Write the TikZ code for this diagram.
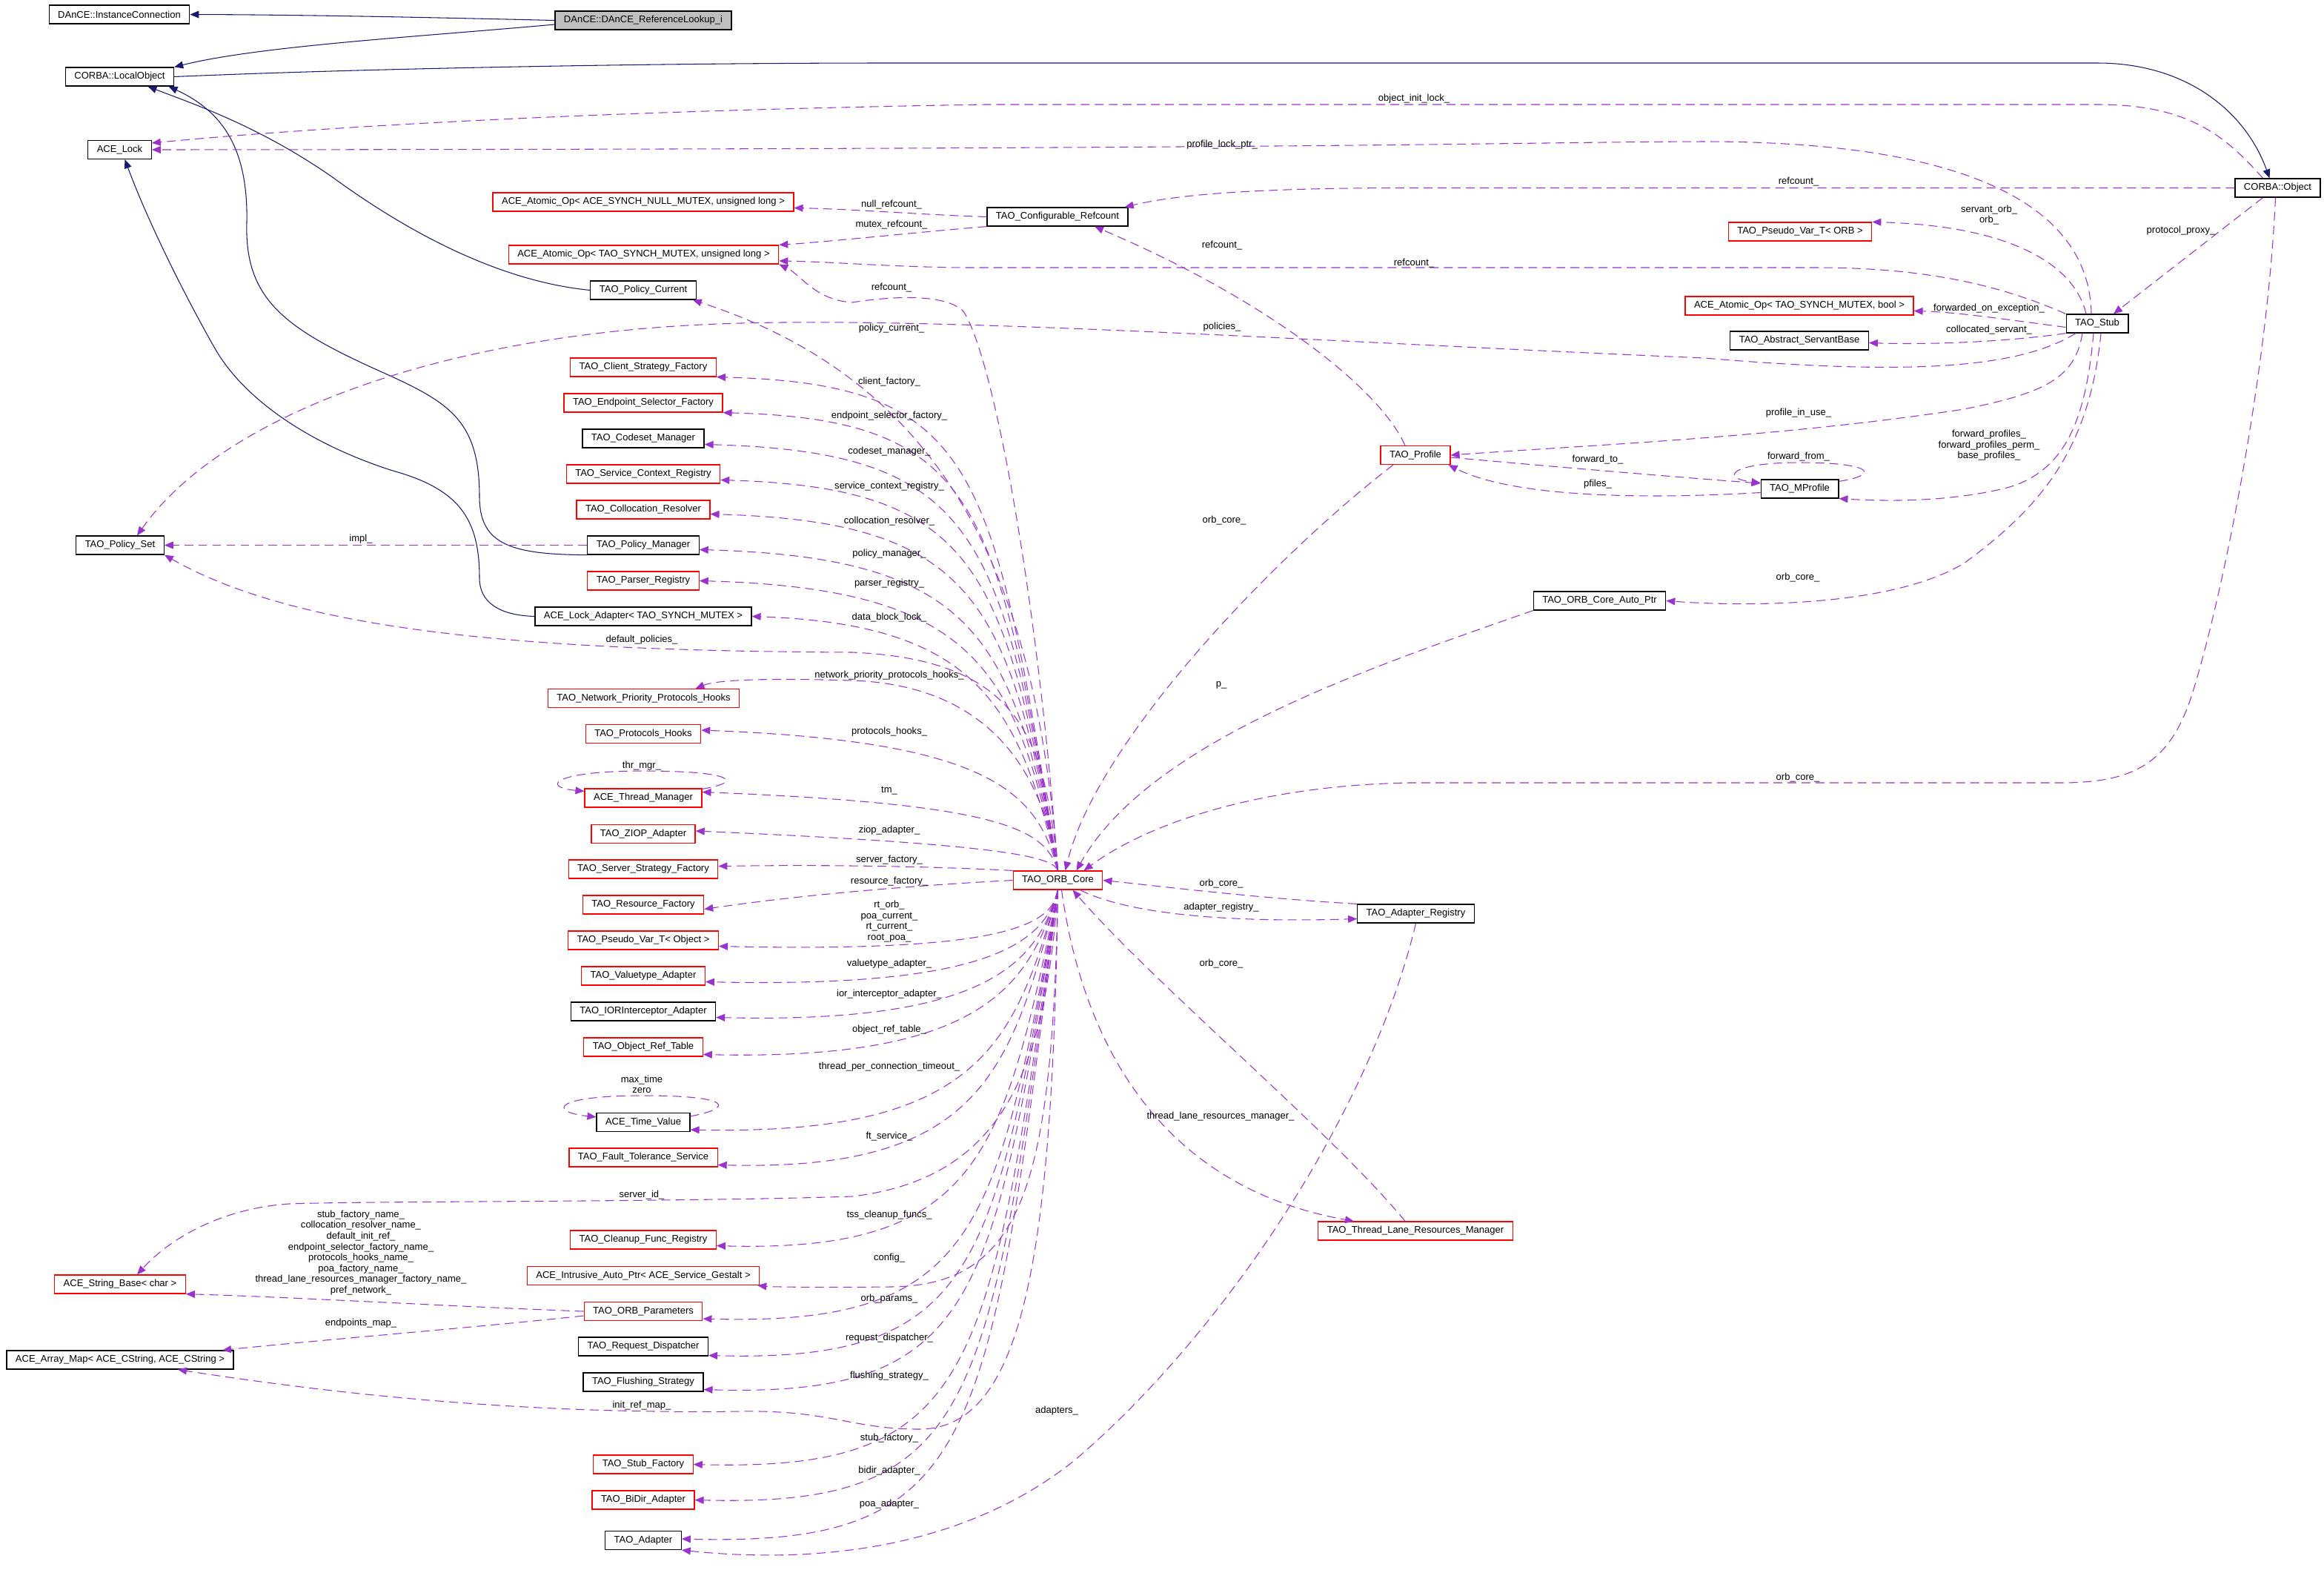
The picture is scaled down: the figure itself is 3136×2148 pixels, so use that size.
\documentclass[tikz,border=0pt]{standalone}
\usepackage{fontspec}
\setmainfont{Liberation Sans}
\usetikzlibrary{arrows.meta}
\definecolor{edgecol}{HTML}{9A32CD}
\definecolor{basecol}{HTML}{191970}
\definecolor{boxred}{HTML}{FF0000}
\tikzset{>={Triangle[length=3.4pt,width=2.8pt]}}
\tikzset{cls/.style={draw=black,line width=0.35pt,inner xsep=0.12cm,inner ysep=0pt,minimum height=0.25cm,font=\fontsize{3.7}{4.15}\selectfont}}
\tikzset{redcls/.style={cls,draw=boxred}}
\tikzset{member/.style={->,edgecol,line width=0.3pt,dash pattern=on 3.4pt off 2pt}}
\tikzset{inherit/.style={->,basecol,line width=0.3pt}}
\tikzset{lbl/.style={inner sep=0pt,align=center,font=\fontsize{3.7}{4.15}\selectfont}}

\begin{document}
\begin{tikzpicture}[x=0.01cm,y=-0.01cm]
\fill[white] (0,0) rectangle (3136,2148);
\useasboundingbox (0,0) rectangle (3136,2148);

% classes
\node[cls] (ic) at (161,19.5) {DAnCE::InstanceConnection};
\node[cls,fill=gray!50] (rl) at (868,27.5) {DAnCE::DAnCE\_ReferenceLookup\_i};
\node[cls] (lo) at (161.5,103.5) {CORBA::LocalObject};
\node[cls] (lock) at (161.5,202) {ACE\_Lock};
\node[redcls] (aonull) at (868,272.5) {ACE\_Atomic\_Op< ACE\_SYNCH\_NULL\_MUTEX, unsigned long >};
\node[redcls] (aomutex) at (868.5,343.5) {ACE\_Atomic\_Op< TAO\_SYNCH\_MUTEX, unsigned long >};
\node[cls] (polcur) at (868,391.5) {TAO\_Policy\_Current};
\node[cls] (cfgref) at (1427,292.5) {TAO\_Configurable\_Refcount};
\node[cls] (cobj) at (3073.5,253.5) {CORBA::Object};
\node[redcls] (pvorb) at (2429,312.5) {TAO\_Pseudo\_Var\_T< ORB >};
\node[redcls] (aobool) at (2428,412.5) {ACE\_Atomic\_Op< TAO\_SYNCH\_MUTEX, bool >};
\node[cls] (servant) at (2428,459.5) {TAO\_Abstract\_ServantBase};
\node[cls] (stub) at (2830,436.5) {TAO\_Stub};
\node[cls] (mprof) at (2428.5,659.5) {TAO\_MProfile};
\node[redcls] (prof) at (1910,614) {TAO\_Profile};
\node[cls] (autoptr) at (2158.5,810.5) {TAO\_ORB\_Core\_Auto\_Ptr};
\node[redcls] (orb) at (1427.5,1187.5) {TAO\_ORB\_Core};
\node[cls] (adreg) at (1910.5,1232.5) {TAO\_Adapter\_Registry};
\node[redcls] (tlrm) at (1910,1660.5) {TAO\_Thread\_Lane\_Resources\_Manager};
\node[cls] (policyset) at (162,735.5) {TAO\_Policy\_Set};
\node[redcls] (csf) at (868,495.5) {TAO\_Client\_Strategy\_Factory};
\node[redcls] (esf) at (868,543.5) {TAO\_Endpoint\_Selector\_Factory};
\node[cls] (codeset) at (868,591.5) {TAO\_Codeset\_Manager};
\node[redcls] (scr) at (868,639.5) {TAO\_Service\_Context\_Registry};
\node[redcls] (colres) at (868,687.5) {TAO\_Collocation\_Resolver};
\node[cls] (polman) at (868,735.5) {TAO\_Policy\_Manager};
\node[redcls] (parser) at (868,783.5) {TAO\_Parser\_Registry};
\node[cls] (lockad) at (868,831.5) {ACE\_Lock\_Adapter< TAO\_SYNCH\_MUTEX >};
\node[redcls] (nphooks) at (868.5,942) {TAO\_Network\_Priority\_Protocols\_Hooks};
\node[redcls] (phooks) at (868,990) {TAO\_Protocols\_Hooks};
\node[redcls] (thrmgr) at (868,1076.5) {ACE\_Thread\_Manager};
\node[redcls] (ziop) at (868,1125) {TAO\_ZIOP\_Adapter};
\node[redcls] (ssf) at (868,1172.5) {TAO\_Server\_Strategy\_Factory};
\node[redcls] (resf) at (868,1220.5) {TAO\_Resource\_Factory};
\node[redcls] (pvobj) at (868,1268.5) {TAO\_Pseudo\_Var\_T< Object >};
\node[redcls] (vta) at (868,1316.5) {TAO\_Valuetype\_Adapter};
\node[cls] (iora) at (868,1364.5) {TAO\_IORInterceptor\_Adapter};
\node[redcls] (ort) at (868,1412.5) {TAO\_Object\_Ref\_Table};
\node[cls] (timeval) at (868,1514) {ACE\_Time\_Value};
\node[redcls] (fts) at (868,1561.5) {TAO\_Fault\_Tolerance\_Service};
\node[redcls] (cleanup) at (868,1672.5) {TAO\_Cleanup\_Func\_Registry};
\node[redcls] (iap) at (868,1721) {ACE\_Intrusive\_Auto\_Ptr< ACE\_Service\_Gestalt >};
\node[redcls] (orbparams) at (868,1769) {TAO\_ORB\_Parameters};
\node[cls] (reqdisp) at (868,1816.5) {TAO\_Request\_Dispatcher};
\node[cls] (flush) at (868,1864.5) {TAO\_Flushing\_Strategy};
\node[redcls] (stubf) at (868,1975.5) {TAO\_Stub\_Factory};
\node[redcls] (bidir) at (868,2023.5) {TAO\_BiDir\_Adapter};
\node[cls] (adapter) at (868,2078) {TAO\_Adapter};
\node[redcls] (strbase) at (162,1732.5) {ACE\_String\_Base< char >};
\node[cls] (arraymap) at (162,1834.5) {ACE\_Array\_Map< ACE\_CString, ACE\_CString >};

% inheritance
\draw[inherit] (rl.west) .. controls (600,24) and (420,20) .. (ic.east);
\draw[inherit] ([yshift=-0.055cm]rl.west) .. controls (560,50) and (350,62) .. (lo.north east);
\draw[inherit] (lo.east) .. controls (500,92) and (900,85) .. (1200,85) -- (2830,85) .. controls (2950,85) and (3030,150) .. ([xshift=-0.11cm]cobj.north);
\draw[inherit] (polcur.west) .. controls (680,380) and (560,320) .. (450,240) .. controls (350,170) and (260,140) .. ([xshift=0.38cm]lo.south);
\draw[inherit] (polman.south west) .. controls (690,748) and (647,735) .. (647,670) .. controls (647,560) and (600,540) .. (500,495) .. controls (380,440) and (330,400) .. (333,300) .. controls (335,200) and (300,150) .. ([xshift=0.66cm]lo.south);
\draw[inherit] (lockad.west) .. controls (670,830) and (647,810) .. (647,780) .. controls (647,700) and (620,660) .. (530,635) .. controls (420,600) and (330,540) .. (290,470) .. controls (250,400) and (200,300) .. ([xshift=0.07cm]lock.south);

% members of the refcount, lock and stub classes
\draw[member] (cfgref.west) .. controls (1250,290) and (1150,282) .. ([yshift=-0.08cm]aonull.east);
\draw[member] (cfgref.south west) .. controls (1250,312) and (1120,326) .. (aomutex.north east);
\draw[member] ([xshift=-0.14cm]prof.north) .. controls (1860,520) and (1700,400) .. ([xshift=0.5cm]cfgref.south);
\draw[member] (cobj.west) -- (1900,253.5) .. controls (1700,253.5) and (1590,262) .. ([xshift=-0.05cm]cfgref.north east);
\draw[member] ([xshift=-0.2cm]cobj.north) .. controls (3000,180) and (2950,141) .. (2830,141) -- (1330,141) .. controls (900,148) and (500,165) .. ([yshift=-0.04cm]lock.north east);
\draw[member] ([xshift=-0.08cm]stub.north) .. controls (2820,300) and (2700,191) .. (2300,191) .. controls (2000,192) and (1900,201) .. (lock.east);
\draw[member] (stub.north west) .. controls (2700,385) and (2600,361) .. (2450,361) -- (1300,361) .. controls (1200,360) and (1120,353) .. ([yshift=-0.085cm]aomutex.east);
\draw[member] ([xshift=-0.15cm]stub.north) .. controls (2800,360) and (2720,305) .. (pvorb.north east);
\draw[member] ([yshift=-0.05cm]stub.west) .. controls (2700,430) and (2640,421) .. ([yshift=-0.07cm]aobool.east);
\draw[member] (stub.south west) .. controls (2700,462) and (2600,465) .. ([yshift=-0.03cm]servant.east);
\draw[member] ([xshift=-0.29cm]stub.south) .. controls (2720,500) and (2560,505) .. (2300,483) .. controls (1800,462) and (1300,428) .. (1000,436) .. controls (600,446) and (300,560) .. ([xshift=0.23cm]policyset.north);
\draw[member] ([xshift=-0.2cm]stub.south) .. controls (2800,510) and (2760,530) .. (2650,552) .. controls (2400,590) and (2150,600) .. (prof.east);
\draw[member] ([xshift=-0.05cm]stub.south) .. controls (2815,560) and (2790,640) .. (2700,660) .. controls (2620,678) and (2540,676) .. (mprof.south east);
\draw[member] ([xshift=0.05cm]stub.south) .. controls (2820,600) and (2760,680) .. (2650,760) .. controls (2550,820) and (2350,818) .. (autoptr.east);
\draw[member] ([xshift=-0.2cm]cobj.south) -- ([xshift=0.22cm]stub.north);
\draw[member] ([yshift=-0.03cm]prof.east) .. controls (2100,630) and (2280,645) .. ([yshift=0.075cm]mprof.west);
\draw[member] ([yshift=-0.05cm]mprof.west) .. controls (2250,672) and (2050,675) .. ([xshift=-0.03cm]prof.south east);
\draw[member] ([yshift=-0.03cm]mprof.north east) .. controls (2540,640) and (2525,624) .. (2428,624) .. controls (2335,624) and (2320,645) .. ([yshift=-0.05cm]mprof.north west);

% members of TAO_ORB_Core, upper side
\draw[member] (orb.north) .. controls (1400,800) and (1340,480) .. (1300,420) .. controls (1275,395) and (1200,400) .. (1150,408) .. controls (1100,405) and (1080,370) .. (aomutex.south east);
\draw[member] (orb.north) .. controls (1400,800) and (1290,520) .. ([xshift=-0.05cm]polcur.south east);
\draw[member] (orb.north) .. controls (1340,628) and (1320,518) .. (csf.south east);
\draw[member] (orb.north) .. controls (1345,676) and (1320,566) .. (esf.south east);
\draw[member] (orb.north) .. controls (1350,720) and (1320,610) .. ([yshift=-0.08cm]codeset.east);
\draw[member] (orb.north) .. controls (1355,768) and (1320,658) .. ([yshift=-0.08cm]scr.east);
\draw[member] (orb.north) .. controls (1360,814) and (1320,704) .. ([yshift=-0.06cm]colres.east);
\draw[member] (orb.north) .. controls (1365,862) and (1320,752) .. ([yshift=-0.06cm]polman.east);
\draw[member] (orb.north) .. controls (1370,904) and (1320,794) .. (parser.east);
\draw[member] (orb.north) .. controls (1375,952) and (1320,842) .. (lockad.east);
\draw[member] (orb.north) .. controls (1410,1000) and (1380,890) .. (1150,880) .. controls (700,878) and (400,850) .. (policyset.south east);
\draw[member] (orb.north) .. controls (1410,1060) and (1350,925) .. (1150,918) .. controls (1050,915) and (970,916) .. ([xshift=0.7cm]nphooks.north);
\draw[member] (orb.north) .. controls (1400,1070) and (1340,1000) .. ([yshift=0.05cm]phooks.east);
\draw[member] (orb.north) .. controls (1410,1120) and (1360,1085) .. ([yshift=0.08cm]thrmgr.east);
\draw[member] (orb.north) .. controls (1420,1158) and (1380,1140) .. ([yshift=0.04cm]ziop.east);
\draw[member] (orb.north west) .. controls (1280,1170) and (1150,1166) .. ([yshift=0.04cm]ssf.east);
\draw[member] (orb.west) .. controls (1280,1192) and (1110,1203) .. ([yshift=-0.06cm]resf.east);

% members of TAO_ORB_Core, lower side
\draw[member] (orb.south) .. controls (1420,1247) and (1360,1285) .. ([yshift=-0.08cm]pvobj.east);
\draw[member] (orb.south) .. controls (1410,1270) and (1340,1333) .. ([yshift=-0.08cm]vta.east);
\draw[member] (orb.south) .. controls (1400,1300) and (1330,1381) .. ([yshift=-0.08cm]iora.east);
\draw[member] (orb.south) .. controls (1390,1330) and (1325,1431) .. ([yshift=-0.1cm]ort.east);
\draw[member] (orb.south) .. controls (1370,1410) and (1320,1532) .. ([yshift=-0.1cm]timeval.east);
\draw[member] (orb.south) .. controls (1365,1450) and (1320,1580) .. ([yshift=-0.1cm]fts.east);
\draw[member] (orb.south) .. controls (1410,1450) and (1350,1590) .. (1150,1614) .. controls (900,1622) and (500,1620) .. (390,1624) .. controls (300,1630) and (230,1670) .. ([xshift=0.23cm]strbase.north);
\draw[member] (orb.south) .. controls (1355,1560) and (1320,1690) .. ([yshift=-0.08cm]cleanup.east);
\draw[member] (orb.south) .. controls (1420,1600) and (1380,1735) .. (1200,1736) .. controls (1100,1737) and (1040,1736) .. ([xshift=-0.03cm]iap.south east);
\draw[member] (orb.south) .. controls (1345,1660) and (1320,1789) .. ([yshift=-0.1cm]orbparams.east);
\draw[member] (orb.south) .. controls (1342,1708) and (1320,1838) .. ([yshift=-0.12cm]reqdisp.east);
\draw[member] (orb.south) .. controls (1340,1755) and (1320,1885) .. ([yshift=-0.1cm]flush.east);
\draw[member] (orb.south) .. controls (1420,1700) and (1380,1928) .. (1240,1928) .. controls (1150,1928) and (1120,1902) .. (1000,1904) .. controls (700,1908) and (450,1880) .. ([xshift=0.78cm]arraymap.south);
\draw[member] (orb.south) .. controls (1335,1855) and (1320,1985) .. (stubf.east);
\draw[member] (orb.south) .. controls (1335,1903) and (1320,2033) .. (bidir.east);
\draw[member] (orb.south) .. controls (1335,1956) and (1320,2086) .. ([yshift=0.02cm]adapter.east);

% other members
\draw[member] (polman.west) -- (policyset.east);
\draw[member] (orbparams.west) .. controls (600,1762) and (400,1750) .. (strbase.south east);
\draw[member] ([yshift=-0.06cm]orbparams.west) .. controls (650,1790) and (450,1806) .. ([xshift=1.38cm]arraymap.north);
\draw[member] ([yshift=-0.01cm]thrmgr.north east) .. controls (1005,1055) and (990,1040) .. (868,1040) .. controls (745,1040) and (730,1062) .. ([yshift=-0.04cm]thrmgr.north west);
\draw[member] ([yshift=-0.05cm]timeval.north east) .. controls (990,1495) and (990,1478) .. (868,1478) .. controls (745,1478) and (740,1500) .. ([yshift=-0.06cm]timeval.north west);
\draw[member] (adreg.north west) .. controls (1700,1212) and (1560,1195) .. (orb.east);
\draw[member] ([xshift=0.3cm]orb.south) .. controls (1520,1232) and (1650,1245) .. ([yshift=-0.07cm]adreg.west);
\draw[member] ([xshift=-0.14cm]tlrm.north) .. controls (1800,1530) and (1560,1330) .. ([xshift=0.2cm]orb.south);
\draw[member] ([xshift=0.05cm]orb.south) .. controls (1460,1400) and (1560,1600) .. ([xshift=-0.83cm]tlrm.north);
\draw[member] (adreg.south) .. controls (1850,1500) and (1650,1800) .. (1450,1970) .. controls (1300,2090) and (1100,2110) .. (adapter.south east);
\draw[member] ([xshift=-0.3cm]prof.south) .. controls (1720,750) and (1480,1000) .. ([xshift=0.1cm]orb.north);
\draw[member] (autoptr.south west) .. controls (1850,900) and (1550,1000) .. ([xshift=0.25cm]orb.north);
\draw[member] ([xshift=-0.03cm]cobj.south) .. controls (3060,500) and (3000,800) .. (2960,930) .. controls (2930,1030) and (2880,1056) .. (2780,1056) -- (1900,1056) .. controls (1700,1060) and (1550,1110) .. ([xshift=0.35cm]orb.north);

% labels
\node[lbl] (l1) at (1908,133) {object\_init\_lock\_};
\node[lbl] (l2) at (1649,195) {profile\_lock\_ptr\_};
\node[lbl] (l3) at (2427,245) {refcount\_};
\node[lbl] (l4) at (1203,276) {null\_refcount\_};
\node[lbl] (l5) at (1203,303) {mutex\_refcount\_};
\node[lbl] (l6) at (2684,290) {servant\_orb\_\\orb\_};
\node[lbl] (l7) at (2943,311) {protocol\_proxy\_};
\node[lbl] (l8) at (1649,331) {refcount\_};
\node[lbl] (l9) at (1908,355) {refcount\_};
\node[lbl] (l10) at (1203,388) {refcount\_};
\node[lbl] (l11) at (2684,416) {forwarded\_on\_exception\_};
\node[lbl] (l12) at (1649,441) {policies\_};
\node[lbl] (l13) at (1203,443) {policy\_current\_};
\node[lbl] (l14) at (2684,445) {collocated\_servant\_};
\node[lbl] (l15) at (1200,515) {client\_factory\_};
\node[lbl] (l16) at (1200,561) {endpoint\_selector\_factory\_};
\node[lbl] (l17) at (2427,557) {profile\_in\_use\_};
\node[lbl] (l18) at (2684,601) {forward\_profiles\_\\forward\_profiles\_perm\_\\base\_profiles\_};
\node[lbl] (l19) at (1200,609) {codeset\_manager\_};
\node[lbl] (l20) at (2427,616) {forward\_from\_};
\node[lbl] (l21) at (2156,620) {forward\_to\_};
\node[lbl] (l22) at (2156,653) {pfiles\_};
\node[lbl] (l23) at (1200,656) {service\_context\_registry\_};
\node[lbl] (l24) at (1200,703) {collocation\_resolver\_};
\node[lbl] (l25) at (1652,702) {orb\_core\_};
\node[lbl] (l26) at (487,727) {impl\_};
\node[lbl] (l27) at (1200,747) {policy\_manager\_};
\node[lbl] (l28) at (2426,779) {orb\_core\_};
\node[lbl] (l29) at (1200,787) {parser\_registry\_};
\node[lbl] (l30) at (1200,833) {data\_block\_lock\_};
\node[lbl] (l31) at (866,863) {default\_policies\_};
\node[lbl] (l32) at (1200,911) {network\_priority\_protocols\_hooks\_};
\node[lbl] (l33) at (1648,924) {p\_};
\node[lbl] (l34) at (1200,987) {protocols\_hooks\_};
\node[lbl] (l35) at (866,1033) {thr\_mgr\_};
\node[lbl] (l36) at (2426,1049) {orb\_core\_};
\node[lbl] (l37) at (1200,1067) {tm\_};
\node[lbl] (l38) at (1200,1120) {ziop\_adapter\_};
\node[lbl] (l39) at (1200,1160) {server\_factory\_};
\node[lbl] (l40) at (1200,1189) {resource\_factory\_};
\node[lbl] (l41) at (1648,1192) {orb\_core\_};
\node[lbl] (l42) at (1648,1224) {adapter\_registry\_};
\node[lbl] (l43) at (1200,1243) {rt\_orb\_\\poa\_current\_\\rt\_current\_\\root\_poa\_};
\node[lbl] (l44) at (1200,1300) {valuetype\_adapter\_};
\node[lbl] (l45) at (1648,1300) {orb\_core\_};
\node[lbl] (l46) at (1200,1341) {ior\_interceptor\_adapter\_};
\node[lbl] (l47) at (1200,1389) {object\_ref\_table\_};
\node[lbl] (l48) at (1200,1439) {thread\_per\_connection\_timeout\_};
\node[lbl] (l49) at (866,1463) {max\_time\\zero};
\node[lbl] (l50) at (1647,1506) {thread\_lane\_resources\_manager\_};
\node[lbl] (l51) at (1200,1533) {ft\_service\_};
\node[lbl] (l52) at (866,1612) {server\_id\_};
\node[lbl] (l53) at (1200,1639) {tss\_cleanup\_funcs\_};
\node[lbl] (l54) at (487,1690) {stub\_factory\_name\_\\collocation\_resolver\_name\_\\default\_init\_ref\_\\endpoint\_selector\_factory\_name\_\\protocols\_hooks\_name\_\\poa\_factory\_name\_\\thread\_lane\_resources\_manager\_factory\_name\_\\pref\_network\_};
\node[lbl] (l55) at (1200,1697) {config\_};
\node[lbl] (l56) at (1200,1752) {orb\_params\_};
\node[lbl] (l57) at (487,1785) {endpoints\_map\_};
\node[lbl] (l58) at (1200,1805) {request\_dispatcher\_};
\node[lbl] (l59) at (1200,1856) {flushing\_strategy\_};
\node[lbl] (l60) at (866,1896) {init\_ref\_map\_};
\node[lbl] (l61) at (1426,1903) {adapters\_};
\node[lbl] (l62) at (1200,1940) {stub\_factory\_};
\node[lbl] (l63) at (1200,1984) {bidir\_adapter\_};
\node[lbl] (l64) at (1200,2029) {poa\_adapter\_};
\end{tikzpicture}
\end{document}
